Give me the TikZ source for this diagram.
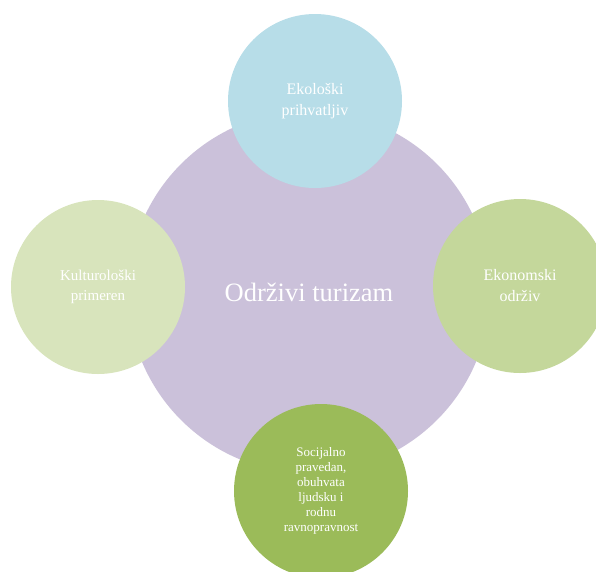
\documentclass[tikz,border=0pt]{standalone}
\usepackage{fontspec}
\setmainfont{Liberation Serif}
\definecolor{cpurple}{RGB}{203,193,218}
\definecolor{cblue}{RGB}{183,221,232}
\definecolor{clight}{RGB}{216,228,188}
\definecolor{cmid}{RGB}{196,215,155}
\definecolor{cdark}{RGB}{155,187,89}
\begin{document}
\begin{tikzpicture}[x=1pt,y=-1pt,
  bubble/.style={circle,minimum size=174pt,inner sep=0pt,text=white,align=center,
    font=\fontsize{16}{21}\selectfont},
  smallbubble/.style={bubble,font=\fontsize{13}{15}\selectfont}]
\clip (0,0) rectangle (596,571);
\node[circle,fill=cpurple,minimum size=362pt,inner sep=0pt,text=white,
  font=\fontsize{26.5}{30}\selectfont] (hub) at (309,292) {Održivi turizam};
\node[bubble,fill=cblue] (eko) at (315,101) {Ekološki\\prihvatljiv};
\node[bubble,fill=clight,font=\fontsize{15}{20}\selectfont] (kult) at (98,287) {Kulturološki\\primeren};
\node[bubble,fill=cmid] (ekon) at (520,286) {Ekonomski\\održiv};
\node[smallbubble,fill=cdark] (soc) at (321,491) {Socijalno\\pravedan,\\obuhvata\\ljudsku i\\rodnu\\ravnopravnost};
\end{tikzpicture}
\end{document}
